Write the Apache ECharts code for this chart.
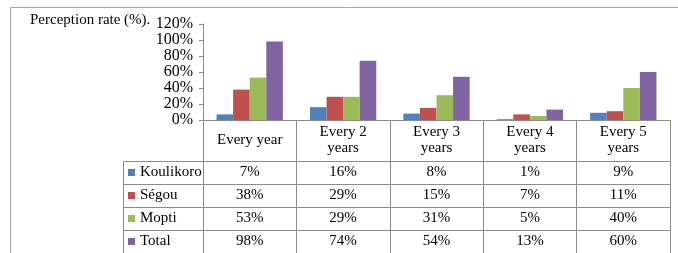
<!DOCTYPE html>
<html>
<head>
<meta charset="utf-8">
<script src="https://cdn.jsdelivr.net/npm/echarts@6/dist/echarts.min.js"></script>
<style>
  html, body { margin: 0; padding: 0; background: #fff; }
  #perceptionchart { width: 678px; height: 253px; }
</style>
</head>
<body>
<div id="perceptionchart"></div>
<script>
// data
var categories = ['Every year', 'Every 2\nyears', 'Every 3\nyears', 'Every 4\nyears', 'Every 5\nyears'];
var seriesNames = ['Koulikoro', 'Ségou', 'Mopti', 'Total'];
var koulikoro = [7, 16, 8, 1, 9];
var segou = [38, 29, 15, 7, 11];
var mopti = [53, 29, 31, 5, 40];
var total = [98, 74, 54, 13, 60];
var yTicks = [0, 20, 40, 60, 80, 100, 120];

var seriesValues = [koulikoro, segou, mopti, total];
var colors = ['#4F81BD', '#C0504D', '#9BBB59', '#8064A2'];

// layout
var serif = 'Liberation Serif';
var lineColor = '#8c8c8c';
var gridLeft = 203, gridRight = 8, gridTop = 24, axisY = 120;
var headerH = 41, rowH = 23, legendLeft = 123;

var Chart = echarts.init(document.getElementById('perceptionchart'));

var xAxes = [{
  type: 'category',
  data: categories,
  position: 'bottom',
  axisLine: { lineStyle: { color: lineColor } },
  axisTick: { show: true, interval: 0, length: headerH, lineStyle: { color: lineColor } },
  axisLabel: {
    interval: 0, margin: headerH / 2, verticalAlign: 'middle',
    fontFamily: serif, fontSize: 15, lineHeight: 16, color: '#000'
  }
}];
seriesValues.forEach(function (vals, i) {
  xAxes.push({
    type: 'category',
    data: vals.map(function (v) { return v + '%'; }),
    position: 'bottom',
    offset: headerH + rowH * i,
    axisLine: { lineStyle: { color: lineColor } },
    axisTick: { show: true, interval: 0, length: rowH, lineStyle: { color: lineColor } },
    axisLabel: {
      interval: 0, margin: rowH / 2, verticalAlign: 'middle',
      fontFamily: serif, fontSize: 15, color: '#000'
    }
  });
});

// frame + legend column lines of the table
var graphics = [{
  type: 'polyline',
  shape: { points: [[10.5, 253], [10.5, 7.5], [678, 7.5]] },
  style: { fill: 'none', stroke: '#a6a6a6', lineWidth: 1 },
  silent: true
}, {
  type: 'line',
  shape: { x1: legendLeft + 0.5, y1: axisY + headerH, x2: legendLeft + 0.5, y2: axisY + headerH + rowH * 4 },
  style: { stroke: lineColor, lineWidth: 1 },
  silent: true
}];
for (var r = 0; r < 4; r++) {
  var yy = axisY + headerH + rowH * r + 0.5;
  graphics.push({
    type: 'line',
    shape: { x1: legendLeft, y1: yy, x2: gridLeft, y2: yy },
    style: { stroke: lineColor, lineWidth: 1 },
    silent: true
  });
}

var options = {
  animation: false,
  title: {
    text: 'Perception rate (%).',
    left: 30, top: 13, padding: 0,
    textStyle: { fontFamily: serif, fontSize: 15, fontWeight: 'normal', color: '#000' }
  },
  legend: {
    data: seriesNames,
    orient: 'vertical',
    left: legendLeft + 5, top: axisY + headerH,
    padding: 0, itemGap: 0,
    itemWidth: 7, itemHeight: 7, icon: 'rect',
    textStyle: { fontFamily: serif, fontSize: 15, lineHeight: rowH, color: '#000' }
  },
  grid: { left: gridLeft, right: gridRight, top: gridTop, bottom: 253 - axisY },
  xAxis: xAxes,
  yAxis: {
    type: 'value',
    min: yTicks[0], max: yTicks[yTicks.length - 1], interval: yTicks[1] - yTicks[0],
    axisLine: { show: true, lineStyle: { color: lineColor } },
    axisTick: { show: true, length: 4, lineStyle: { color: lineColor } },
    splitLine: { show: false },
    axisLabel: { formatter: '{value}%', margin: 10, fontFamily: serif, fontSize: 16, color: '#000' }
  },
  series: seriesNames.map(function (name, i) {
    return {
      name: name,
      type: 'bar',
      xAxisIndex: 0,
      data: seriesValues[i],
      barGap: '0%',
      barCategoryGap: '29%',
      itemStyle: { color: colors[i] }
    };
  }),
  graphic: graphics
};
Chart.setOption(options);
</script>
</body>
</html>
